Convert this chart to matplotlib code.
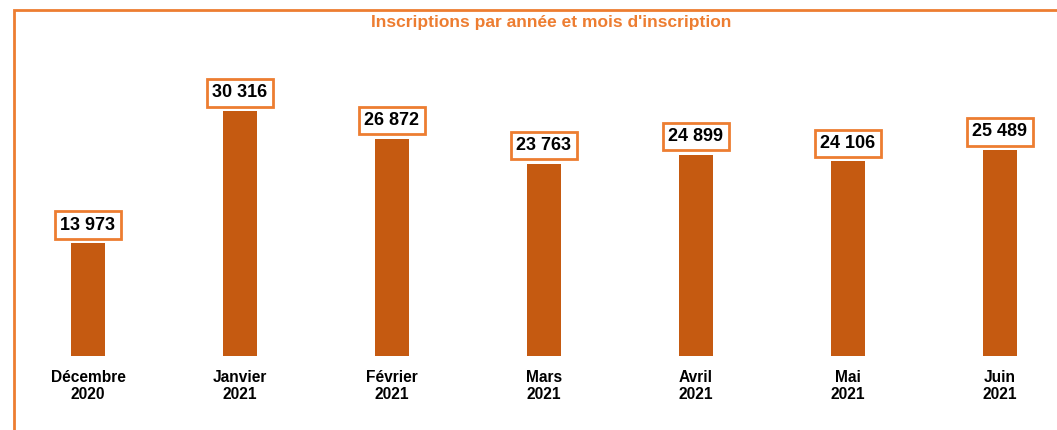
import matplotlib.pyplot as plt
from matplotlib.patches import Rectangle

plt.rcParams['font.family'] = ['Liberation Sans', 'DejaVu Sans']

months = ['Décembre', 'Janvier', 'Février', 'Mars', 'Avril', 'Mai', 'Juin']
years = ['2020', '2021', '2021', '2021', '2021', '2021', '2021']
inscriptions = [13973, 30316, 26872, 23763, 24899, 24106, 25489]

BAR_COLOR = '#C55A11'
ORANGE = '#ED7D31'

W, H = 1057, 430
fig = plt.figure(figsize=(W / 100, H / 100), dpi=100)

# axes placed in pixels: bars sit on y=356 px, top at y=10 px
ax = fig.add_axes([0, (H - 356) / H, 1, (356 - 10) / H])
x = list(range(len(months)))
ax.bar(x, inscriptions, width=0.22, color=BAR_COLOR)
ax.set_xlim(-88 / 152, (W - 88) / 152)
ax.set_ylim(0, 346 / 0.00808)

for i, v in enumerate(inscriptions):
    lbl = f"{v:,}".replace(',', ' ')
    ax.annotate(lbl, (i, v), xytext=(0, 13), textcoords='offset points',
                ha='center', va='center', fontsize=13, fontweight='bold',
                color='black',
                bbox=dict(boxstyle='square,pad=0.28', fc='white',
                          ec=ORANGE, lw=2))

ax.set_xticks(x)
ax.set_xticklabels([f"{m}\n{y}" for m, y in zip(months, years)],
                   fontsize=11.2, fontweight='bold', linespacing=1.2)
ax.tick_params(axis='x', length=0, pad=10)
ax.set_yticks([])
for s in ax.spines.values():
    s.set_visible(False)

# outer frame (cropped on the right and bottom)
fig.patches.append(Rectangle((14 / W, -0.05), 1.1, (H - 10) / H + 0.05,
                             transform=fig.transFigure, fill=False,
                             ec=ORANGE, lw=2, clip_on=False))

fig.text(551 / W, 1 - 23 / H, "Inscriptions par année et mois d'inscription",
         ha='center', va='center', fontsize=12.5, fontweight='bold', color=ORANGE)

fig.savefig('out.png', dpi=100)
